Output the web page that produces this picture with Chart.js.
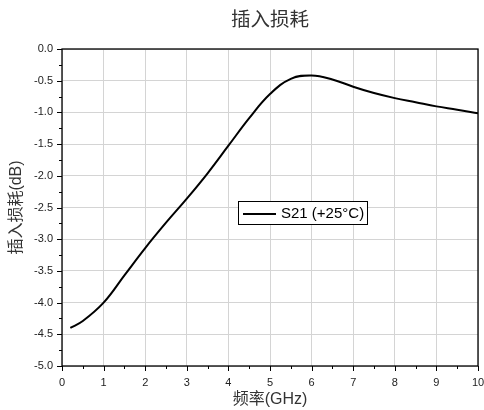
<!DOCTYPE html>
<html>
<head>
<meta charset="utf-8">
<script src="https://cdn.jsdelivr.net/npm/chart.js@4/dist/chart.umd.min.js"></script>
<style>
html,body{margin:0;padding:0;background:#fff;}
#wrap{width:484px;height:410px;}
</style>
</head>
<body>
<div id="wrap"><canvas id="c" width="484" height="410"></canvas></div>
<script>
const freqGHz = [0.2, 0.5, 1.0, 1.5, 2.0, 2.5, 3.0, 3.5, 4.0, 4.5, 5.0, 5.5, 6.0, 6.5, 7.0, 7.5, 8.0, 8.5, 9.0, 9.5, 10.0];
const s21 = [-4.40, -4.29, -4.00, -3.57, -3.14, -2.74, -2.36, -1.96, -1.525, -1.09, -0.71, -0.47, -0.418, -0.48, -0.595, -0.695, -0.775, -0.84, -0.905, -0.957, -1.015];
const xTicks = [0,1,2,3,4,5,6,7,8,9,10];
const yTicks = [0.0,-0.5,-1.0,-1.5,-2.0,-2.5,-3.0,-3.5,-4.0,-4.5,-5.0];
const seriesName = 'S21 (+25°C)';
const titleText = '插入损耗';
const xTitle = '频率(GHz)';
const yTitle = '插入损耗(dB)';

const FONT = '"Liberation Sans", Arial, "Noto Sans CJK SC", sans-serif';

const framePlugin = {
  id: 'frame',
  afterDatasetsDraw(chart) {
    const {ctx, chartArea: a, scales} = chart;
    const xs = scales.x, ys = scales.y;
    ctx.save();
    // title centered over plot area
    ctx.fillStyle = '#333';
    ctx.font = '19.5px ' + FONT;
    ctx.textAlign = 'center';
    ctx.textBaseline = 'middle';
    ctx.fillText(titleText, (a.left + a.right) / 2, 21);

    ctx.strokeStyle = '#000';
    ctx.lineWidth = 1.3;
    ctx.strokeRect(a.left, a.top, a.right - a.left, a.bottom - a.top);
    ctx.lineWidth = 1;
    ctx.beginPath();
    for (let v = xTicks[0]; v <= xTicks[xTicks.length-1] + 1e-9; v += 0.5) {
      const px = Math.round(xs.getPixelForValue(v)) + 0.5;
      const major = Math.abs(v - Math.round(v)) < 1e-9;
      ctx.moveTo(px, a.bottom);
      ctx.lineTo(px, a.bottom + (major ? 5 : 3));
    }
    for (let v = 0; v >= -5 - 1e-9; v -= 0.25) {
      const py = Math.round(ys.getPixelForValue(v)) + 0.5;
      const major = Math.abs(v * 2 - Math.round(v * 2)) < 1e-9;
      ctx.moveTo(a.left, py);
      ctx.lineTo(a.left - (major ? 5 : 3), py);
    }
    ctx.stroke();

    // legend box inside plot
    const lx = Math.round(xs.getPixelForValue(4.23)), ly = Math.round(ys.getPixelForValue(-2.4));
    const w = 129, h = 23;
    ctx.fillStyle = '#fff';
    ctx.fillRect(lx, ly, w, h);
    ctx.lineWidth = 1;
    ctx.strokeRect(lx + 0.5, ly + 0.5, w, h);
    ctx.lineWidth = 2;
    ctx.beginPath();
    ctx.moveTo(lx + 5, ly + 13);
    ctx.lineTo(lx + 38, ly + 13);
    ctx.stroke();
    ctx.fillStyle = '#000';
    ctx.font = '15px ' + FONT;
    ctx.textBaseline = 'middle';
    ctx.textAlign = 'left';
    ctx.fillText(seriesName, lx + 43, ly + 13);
    ctx.restore();
  }
};

new Chart(document.getElementById('c'), {
  type: 'line',
  data: {
    datasets: [{
      label: seriesName,
      data: freqGHz.map((f, i) => ({x: f, y: s21[i]})),
      borderColor: '#000',
      borderWidth: 2,
      pointRadius: 0,
      fill: false,
      tension: 0.4
    }]
  },
  options: {
    responsive: false,
    animation: false,
    devicePixelRatio: 1,
    layout: {padding: {left: 0, right: 0, top: 49, bottom: 0}},
    plugins: {
      legend: {display: false},
      tooltip: {enabled: false},
      title: {display: false}
    },
    scales: {
      x: {
        type: 'linear',
        min: 0, max: 10,
        afterBuildTicks(s) { s.ticks = xTicks.map(v => ({value: v})); },
        afterFit(s) { s.height = 44; s.paddingRight = 6; s.paddingLeft = 0; },
        grid: {color: '#d4d4d4', lineWidth: 1, drawTicks: false},
        border: {display: false},
        ticks: {
          color: '#222', padding: 10, maxRotation: 0, autoSkip: false,
          font: {family: FONT, size: 11},
          callback: v => String(v)
        },
        title: {
          display: true, text: xTitle, color: '#333',
          font: {family: FONT, size: 16, lineHeight: 1.2},
          padding: {top: 0, bottom: 1}
        }
      },
      y: {
        type: 'linear',
        min: -5, max: 0,
        afterBuildTicks(s) { s.ticks = yTicks.map(v => ({value: v})); },
        afterFit(s) { s.width = 62; s.paddingTop = 0; s.paddingBottom = 0; },
        grid: {color: '#d4d4d4', lineWidth: 1, drawTicks: false},
        border: {display: false},
        ticks: {
          color: '#222', padding: 9, autoSkip: false,
          font: {family: FONT, size: 11},
          callback: v => Number(v).toFixed(1)
        },
        title: {
          display: true, text: yTitle, color: '#333',
          font: {family: FONT, size: 16, lineHeight: 1.2},
          padding: {top: 7, bottom: 0}
        }
      }
    }
  },
  plugins: [framePlugin]
});
</script>
</body>
</html>
